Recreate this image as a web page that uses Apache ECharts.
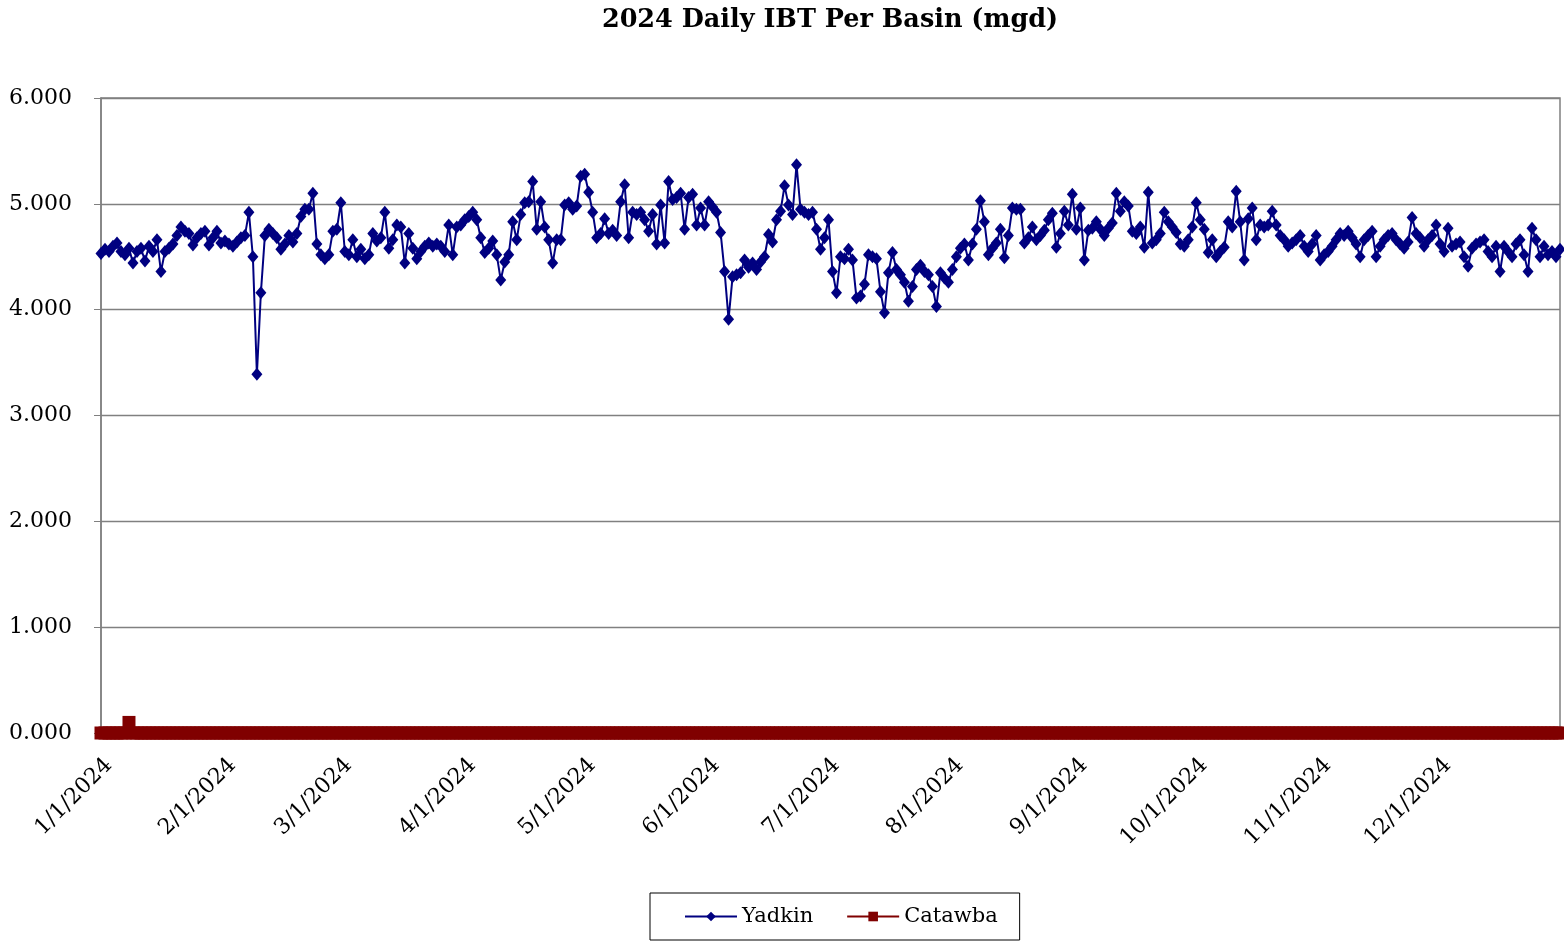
<!DOCTYPE html>
<html><head><meta charset="utf-8">
<script src="https://cdn.jsdelivr.net/npm/echarts@6/dist/echarts.min.js"></script>
<style>html,body{margin:0;padding:0;background:#fff}#c{width:1564px;height:943px}</style>
</head><body><div id="c"></div>
<script>
const yadkin = [
// Jan
4.53,4.57,4.55,4.60,4.63,4.55,4.52,4.58,4.44,4.55,4.58,4.46,4.60,4.55,4.66,4.36,4.55,4.58,4.62,4.70,4.78,4.74,4.72,4.61,4.68,4.72,4.74,4.61,4.68,4.74,4.63,
// Feb
4.65,4.62,4.60,4.64,4.68,4.70,4.92,4.50,3.39,4.16,4.70,4.76,4.72,4.68,4.57,4.62,4.70,4.64,4.72,4.88,4.95,4.95,5.10,4.62,4.52,4.48,4.52,4.74,4.76,
// Mar
5.01,4.55,4.52,4.66,4.50,4.57,4.48,4.52,4.72,4.65,4.68,4.92,4.58,4.66,4.80,4.78,4.44,4.72,4.58,4.48,4.55,4.60,4.63,4.60,4.62,4.60,4.55,4.80,4.52,4.78,4.80,
// Apr
4.85,4.88,4.92,4.85,4.68,4.54,4.58,4.65,4.52,4.28,4.45,4.52,4.83,4.66,4.90,5.01,5.02,5.21,4.76,5.02,4.78,4.66,4.44,4.66,4.66,4.99,5.01,4.95,4.98,5.26,
// May
5.28,5.11,4.92,4.68,4.72,4.86,4.72,4.75,4.70,5.02,5.18,4.68,4.92,4.90,4.92,4.85,4.74,4.90,4.62,4.99,4.63,5.21,5.04,5.06,5.10,4.76,5.06,5.09,4.80,4.96,4.80,
// Jun
5.02,4.97,4.92,4.73,4.36,3.91,4.31,4.33,4.35,4.47,4.40,4.44,4.38,4.45,4.50,4.71,4.64,4.85,4.93,5.17,4.99,4.90,5.37,4.95,4.92,4.90,4.92,4.76,4.57,4.68,
// Jul
4.85,4.36,4.16,4.50,4.48,4.57,4.47,4.11,4.13,4.24,4.52,4.50,4.48,4.17,3.97,4.35,4.54,4.38,4.33,4.26,4.08,4.22,4.38,4.42,4.36,4.33,4.22,4.03,4.35,4.30,4.26,
// Aug
4.38,4.50,4.58,4.62,4.47,4.62,4.76,5.03,4.83,4.52,4.58,4.63,4.76,4.49,4.70,4.96,4.95,4.95,4.63,4.68,4.78,4.66,4.70,4.75,4.85,4.91,4.59,4.72,4.93,4.80,5.09,
// Sep
4.76,4.96,4.47,4.75,4.77,4.83,4.76,4.70,4.77,4.82,5.10,4.93,5.02,4.98,4.74,4.72,4.78,4.59,5.11,4.63,4.66,4.72,4.92,4.83,4.78,4.73,4.62,4.60,4.66,4.78,
// Oct
5.01,4.85,4.76,4.54,4.66,4.50,4.55,4.59,4.83,4.78,5.12,4.83,4.47,4.86,4.96,4.66,4.80,4.78,4.80,4.93,4.80,4.70,4.66,4.60,4.63,4.66,4.70,4.60,4.55,4.62,4.70,
// Nov
4.47,4.52,4.55,4.60,4.66,4.72,4.70,4.74,4.68,4.62,4.50,4.66,4.70,4.74,4.50,4.60,4.66,4.70,4.72,4.66,4.62,4.58,4.64,4.87,4.72,4.68,4.60,4.66,4.70,4.80,
// Dec
4.62,4.55,4.77,4.60,4.62,4.64,4.50,4.41,4.58,4.62,4.64,4.66,4.55,4.50,4.60,4.36,4.60,4.55,4.50,4.62,4.66,4.52,4.36,4.77,4.66,4.50,4.60,4.52,4.55,4.50,4.57
];
const catawbaSpikeDay = 7;   // day index of the only non-zero Catawba value
const catawbaSpikeValue = 0.10;
const yTicks = [0, 1, 2, 3, 4, 5, 6];

// categories: every day of 2024
const dates = [];
for (let d = new Date(2024, 0, 1); d.getFullYear() === 2024; d.setDate(d.getDate() + 1)) {
  dates.push((d.getMonth() + 1) + '/' + d.getDate() + '/' + d.getFullYear());
}
const catawba = dates.map((_, i) => i === catawbaSpikeDay ? catawbaSpikeValue : 0);

const FONT = 'DejaVu Serif';
const chart = echarts.init(document.getElementById('c'), null, {renderer: 'canvas'});
const isMonthStart = (i, v) => v.split('/')[1] === '1';
chart.setOption({
  animation: false,
  backgroundColor: '#fff',
  title: {
    text: '2024 Daily IBT Per Basin (mgd)',
    left: 825, top: 2, textAlign: 'center',
    textStyle: {fontFamily: FONT, fontWeight: 'bold', fontSize: 25.5, color: '#000'}
  },
  grid: {left: 101, right: 4, top: 98, bottom: 210, show: true, borderColor: '#808080', borderWidth: 1.5},
  legend: {
    left: 650, top: 893,
    padding: [13, 22, 13, 34],
    itemGap: 33, itemWidth: 52, itemHeight: 12,
    borderColor: '#000', borderWidth: 1,
    textStyle: {fontFamily: FONT, fontSize: 21, color: '#000'},
    data: ['Yadkin', 'Catawba']
  },
  xAxis: {
    type: 'category', data: dates, boundaryGap: false,
    axisLine: {lineStyle: {color: '#808080', width: 1.5}},
    axisTick: {interval: isMonthStart, length: 6, lineStyle: {color: '#808080'}},
    axisLabel: {interval: isMonthStart, rotate: 45, verticalAlign: 'top', fontFamily: FONT, fontSize: 22, color: '#000', margin: 21},
    splitLine: {show: false}
  },
  yAxis: {
    type: 'value', min: yTicks[0], max: yTicks[yTicks.length - 1], interval: 1,
    axisLine: {show: true, lineStyle: {color: '#808080', width: 1.5}},
    axisTick: {show: true, length: 7, lineStyle: {color: '#808080'}},
    axisLabel: {formatter: v => v.toFixed(3), fontFamily: FONT, fontSize: 22, color: '#000', margin: 29},
    splitLine: {lineStyle: {color: '#808080', width: 1.3}}
  },
  series: [
    {
      name: 'Yadkin', type: 'line', data: yadkin,
      symbol: 'diamond', symbolSize: [11, 13], showAllSymbol: true,
      lineStyle: {color: '#000080', width: 2},
      itemStyle: {color: '#000080'}, z: 3
    },
    {
      name: 'Catawba', type: 'line', data: catawba,
      symbol: 'rect', symbolSize: 13, showAllSymbol: true,
      lineStyle: {color: '#800000', width: 4},
      itemStyle: {color: '#800000'}, z: 4
    }
  ]
});
</script></body></html>
